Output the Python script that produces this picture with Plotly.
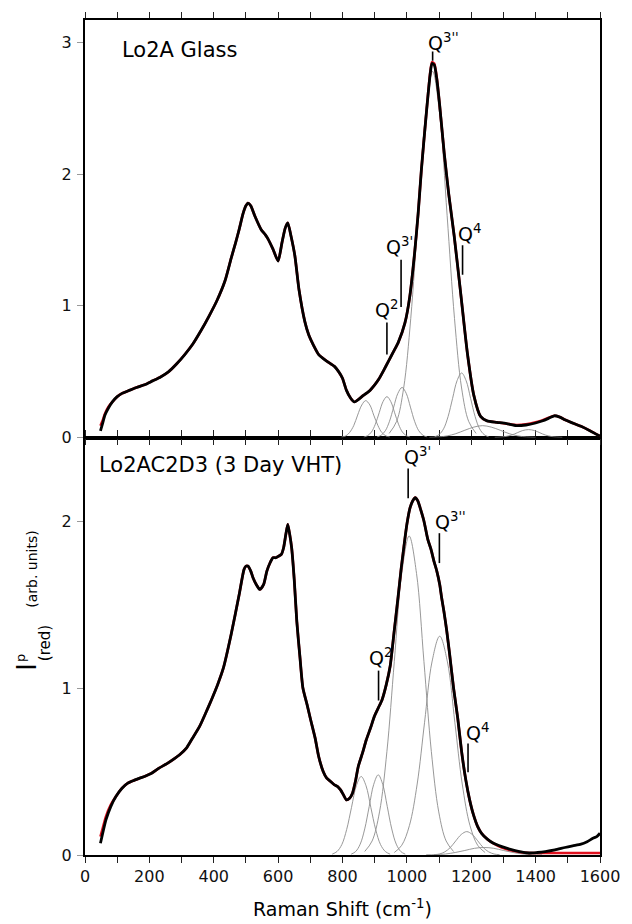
import plotly.graph_objects as go

# ---------------- data: top panel (Lo2A Glass) ----------------
top_x = [48, 55, 62, 72, 85, 100, 115, 135, 160, 185, 210, 235, 260, 285, 310, 335, 360, 385, 410, 435,
         454, 468, 479, 491, 500, 506, 515, 528, 547, 560, 568, 584, 600, 612, 622, 630, 640, 652, 665, 683,
         695, 710, 726, 751, 775, 788, 800, 812, 825, 837, 850, 865, 882, 900, 912, 928, 943, 958, 973, 994,
         1009, 1024, 1035, 1045, 1060, 1072, 1078, 1085, 1093, 1102, 1116, 1130, 1147, 1167, 1188, 1208, 1229, 1249, 1280, 1310,
         1340, 1370, 1400, 1420, 1440, 1458, 1475, 1491, 1510, 1541, 1570, 1600]
top_data = [0.05, 0.11, 0.17, 0.22, 0.27, 0.31, 0.335, 0.355, 0.38, 0.40, 0.43, 0.46, 0.50, 0.56, 0.63, 0.71, 0.81, 0.92, 1.04, 1.19,
            1.36, 1.48, 1.58, 1.70, 1.76, 1.78, 1.76, 1.68, 1.58, 1.54, 1.51, 1.43, 1.34, 1.48, 1.59, 1.63, 1.53, 1.38, 1.12, 0.88,
            0.78, 0.70, 0.63, 0.58, 0.54, 0.50, 0.45, 0.36, 0.30, 0.27, 0.29, 0.32, 0.35, 0.40, 0.44, 0.51, 0.58, 0.65, 0.72, 0.87,
            1.07, 1.40, 1.70, 2.03, 2.45, 2.75, 2.84, 2.83, 2.72, 2.52, 2.16, 1.85, 1.53, 1.10, 0.64, 0.32, 0.16, 0.126, 0.115, 0.105,
            0.09, 0.095, 0.11, 0.125, 0.145, 0.165, 0.155, 0.135, 0.115, 0.085, 0.05, 0.01]
top_fit = [0.09, 0.13, 0.18, 0.23, 0.27, 0.31, 0.335, 0.355, 0.38, 0.40, 0.43, 0.46, 0.50, 0.56, 0.63, 0.71, 0.81, 0.92, 1.04, 1.19,
           1.36, 1.48, 1.58, 1.70, 1.76, 1.78, 1.76, 1.68, 1.58, 1.54, 1.51, 1.43, 1.34, 1.48, 1.59, 1.63, 1.53, 1.38, 1.12, 0.88,
           0.78, 0.70, 0.63, 0.58, 0.54, 0.50, 0.45, 0.36, 0.30, 0.27, 0.29, 0.32, 0.35, 0.40, 0.44, 0.51, 0.58, 0.65, 0.72, 0.87,
           1.07, 1.40, 1.70, 2.03, 2.45, 2.76, 2.85, 2.84, 2.73, 2.52, 2.16, 1.85, 1.53, 1.10, 0.64, 0.32, 0.16, 0.126, 0.115, 0.105,
           0.095, 0.10, 0.115, 0.13, 0.15, 0.165, 0.155, 0.135, 0.115, 0.085, 0.05, 0.01]

# fitted components, top panel
top_c1_x = [797, 810, 822, 835, 847, 860, 872, 885, 897, 910, 922, 935, 947]
top_c1_y = [0.003, 0.012, 0.038, 0.091, 0.170, 0.247, 0.28, 0.247, 0.170, 0.091, 0.038, 0.012, 0.003]
top_c2_x = [866, 878, 890, 902, 914, 926, 938, 950, 962, 974, 986, 998, 1010]
top_c2_y = [0.003, 0.014, 0.042, 0.101, 0.188, 0.273, 0.31, 0.273, 0.188, 0.101, 0.042, 0.014, 0.003]
top_c3_x = [907, 920, 933, 946, 959, 972, 985, 998, 1011, 1024, 1037, 1050, 1063]
top_c3_y = [0.004, 0.017, 0.051, 0.123, 0.231, 0.335, 0.38, 0.335, 0.231, 0.123, 0.051, 0.017, 0.004]
top_c4_x = [945, 968, 990, 1012, 1035, 1058, 1080, 1102, 1125, 1148, 1170, 1192, 1215]
top_c4_y = [0.031, 0.122, 0.376, 0.903, 1.687, 2.452, 2.78, 2.452, 1.687, 0.903, 0.376, 0.122, 0.031]
top_c5_x = [1086, 1100, 1114, 1128, 1142, 1156, 1170, 1184, 1198, 1212, 1226, 1240, 1254]
top_c5_y = [0.005, 0.022, 0.066, 0.159, 0.297, 0.432, 0.49, 0.432, 0.297, 0.159, 0.066, 0.022, 0.005]
top_c6_x = [1070, 1098, 1125, 1152, 1180, 1208, 1235, 1262, 1290, 1318, 1345, 1372, 1400]
top_c6_y = [0.001, 0.004, 0.012, 0.029, 0.055, 0.079, 0.09, 0.079, 0.055, 0.029, 0.012, 0.004, 0.001]
top_c7_x = [1273, 1290, 1308, 1326, 1343, 1360, 1378, 1396, 1413, 1430, 1448, 1466, 1483]
top_c7_y = [0.001, 0.003, 0.008, 0.019, 0.036, 0.053, 0.06, 0.053, 0.036, 0.019, 0.008, 0.003, 0.001]

# ---------------- data: bottom panel (Lo2AC2D3, 3 Day VHT) ----------------
bot_x = [48, 55, 65, 80, 96, 115, 133, 150, 170, 190, 207, 230, 257, 280, 294, 315, 331, 356, 375, 393,
         412, 430, 454, 479, 494, 500, 506, 515, 522, 532, 543, 555, 565, 575, 584, 593, 602, 610, 617, 624,
         630, 636, 642, 650, 658, 668, 677, 690, 701, 715, 726, 740, 751, 763, 775, 785, 794, 803, 812, 822,
         831, 840, 849, 862, 874, 887, 899, 911, 923, 936, 948, 960, 973, 982, 991, 1000, 1010, 1018, 1026, 1034,
         1041, 1053, 1065, 1075, 1084, 1093, 1102, 1108, 1115, 1124, 1133, 1145, 1158, 1170, 1183, 1195, 1207, 1220, 1232, 1250,
         1269, 1295, 1319, 1350, 1380, 1405, 1430, 1460, 1491, 1515, 1541, 1560, 1578, 1590, 1600]
bot_data = [0.07, 0.13, 0.21, 0.29, 0.35, 0.40, 0.43, 0.445, 0.46, 0.475, 0.49, 0.52, 0.55, 0.58, 0.60, 0.64, 0.69, 0.77, 0.85, 0.93,
            1.02, 1.12, 1.32, 1.56, 1.71, 1.73, 1.73, 1.70, 1.66, 1.62, 1.59, 1.62, 1.70, 1.75, 1.78, 1.78, 1.79, 1.80, 1.84, 1.92,
            1.98, 1.92, 1.84, 1.65, 1.40, 1.18, 1.00, 0.90, 0.81, 0.70, 0.59, 0.50, 0.46, 0.44, 0.42, 0.41, 0.39, 0.36, 0.33, 0.34,
            0.37, 0.44, 0.53, 0.61, 0.69, 0.76, 0.83, 0.88, 0.93, 1.02, 1.13, 1.33, 1.55, 1.71, 1.85, 1.98, 2.08, 2.12, 2.14, 2.12,
            2.08, 2.00, 1.89, 1.83, 1.76, 1.70, 1.62, 1.54, 1.46, 1.34, 1.20, 1.00, 0.82, 0.62, 0.45, 0.33, 0.24, 0.17, 0.13, 0.095,
            0.07, 0.05, 0.035, 0.02, 0.012, 0.015, 0.02, 0.03, 0.045, 0.055, 0.065, 0.08, 0.10, 0.11, 0.13]
bot_fit = [0.11, 0.16, 0.23, 0.30, 0.35, 0.40, 0.43, 0.445, 0.46, 0.475, 0.49, 0.52, 0.55, 0.58, 0.60, 0.64, 0.69, 0.77, 0.85, 0.93,
           1.02, 1.12, 1.32, 1.56, 1.71, 1.73, 1.73, 1.70, 1.66, 1.62, 1.59, 1.62, 1.70, 1.75, 1.78, 1.78, 1.79, 1.80, 1.84, 1.92,
           1.98, 1.92, 1.84, 1.65, 1.40, 1.18, 1.00, 0.90, 0.81, 0.70, 0.59, 0.50, 0.46, 0.44, 0.42, 0.41, 0.39, 0.36, 0.33, 0.34,
           0.37, 0.44, 0.53, 0.61, 0.69, 0.76, 0.83, 0.88, 0.93, 1.02, 1.13, 1.33, 1.55, 1.71, 1.85, 1.98, 2.08, 2.12, 2.14, 2.12,
           2.08, 2.00, 1.89, 1.83, 1.76, 1.70, 1.62, 1.54, 1.46, 1.34, 1.20, 1.00, 0.82, 0.62, 0.45, 0.33, 0.24, 0.17, 0.13, 0.095,
           0.07, 0.045, 0.03, 0.018, 0.012, 0.012, 0.012, 0.012, 0.012, 0.012, 0.012, 0.012, 0.012, 0.012, 0.012]

# fitted components, bottom panel
bot_c1_x = [768, 783, 798, 813, 828, 843, 858, 873, 888, 903, 918, 933, 948]
bot_c1_y = [0.005, 0.021, 0.063, 0.153, 0.285, 0.415, 0.47, 0.415, 0.285, 0.153, 0.063, 0.021, 0.005]
bot_c2_x = [827, 841, 855, 869, 883, 897, 911, 925, 939, 953, 967, 981, 995]
bot_c2_y = [0.005, 0.021, 0.065, 0.156, 0.291, 0.423, 0.48, 0.423, 0.291, 0.156, 0.065, 0.021, 0.005]
bot_c3_x = [869, 892, 915, 938, 961, 984, 1007, 1030, 1053, 1076, 1099, 1122, 1145]
bot_c3_y = [0.021, 0.084, 0.258, 0.620, 1.159, 1.686, 1.91, 1.686, 1.159, 0.620, 0.258, 0.084, 0.021]
bot_c4_x = [961, 984, 1008, 1032, 1055, 1078, 1102, 1126, 1149, 1172, 1196, 1220, 1243]
bot_c4_y = [0.015, 0.058, 0.177, 0.425, 0.795, 1.156, 1.31, 1.156, 0.795, 0.425, 0.177, 0.058, 0.015]
bot_c5_x = [1084, 1101, 1118, 1135, 1152, 1169, 1186, 1203, 1220, 1237, 1254, 1271, 1288]
bot_c5_y = [0.002, 0.006, 0.019, 0.045, 0.085, 0.123, 0.14, 0.123, 0.085, 0.045, 0.019, 0.006, 0.002]
bot_c6_x = [1060, 1090, 1120, 1150, 1180, 1210, 1240, 1270, 1300, 1330, 1360, 1390, 1420]
bot_c6_y = [0.001, 0.002, 0.006, 0.015, 0.027, 0.04, 0.045, 0.04, 0.027, 0.015, 0.006, 0.002, 0.001]

# peak labels: (text, label x, label y, tick x, tick y0, tick y1)
top_labels = ["Q<sup>3''</sup>", "Q<sup>3'</sup>", "Q<sup>2</sup>", "Q<sup>4</sup>"]
top_label_x = [1058, 930, 896, 1153]
top_label_y = [2.895, 1.345, 0.87, 1.45]
top_tick_x = [1080, 982, 938, 1173]
top_tick_y0 = [2.86, 0.99, 0.63, 1.236]
top_tick_y1 = [2.93, 1.35, 0.873, 1.46]

bot_labels = ["Q<sup>3'</sup>", "Q<sup>3''</sup>", "Q<sup>2</sup>", "Q<sup>4</sup>"]
bot_label_x = [985, 1080, 875, 1178]
bot_label_y = [2.306, 1.918, 1.101, 0.653]
bot_tick_x = [1004, 1101, 912, 1190]
bot_tick_y0 = [2.136, 1.748, 0.925, 0.495]
bot_tick_y1 = [2.315, 1.927, 1.104, 0.668]

x_major_step = 200
x_minor_step = 100
top_y_ticks = [0, 1, 2, 3]
bot_y_ticks = [0, 1, 2]

FONT = "DejaVu Sans"
GRAY = "#8c8c8c"
RED = "#e0101e"

fig = go.Figure()

def comp(xs, ys, xa, ya):
    fig.add_trace(go.Scatter(x=xs, y=ys, mode="lines", xaxis=xa, yaxis=ya,
                             line=dict(color=GRAY, width=0.9, shape="spline", smoothing=1.0),
                             hoverinfo="skip"))

for cx, cy in [(top_c1_x, top_c1_y), (top_c2_x, top_c2_y), (top_c3_x, top_c3_y), (top_c4_x, top_c4_y),
               (top_c5_x, top_c5_y), (top_c6_x, top_c6_y), (top_c7_x, top_c7_y)]:
    comp(cx, cy, "x2", "y2")
for cx, cy in [(bot_c1_x, bot_c1_y), (bot_c2_x, bot_c2_y), (bot_c3_x, bot_c3_y), (bot_c4_x, bot_c4_y),
               (bot_c5_x, bot_c5_y), (bot_c6_x, bot_c6_y)]:
    comp(cx, cy, "x", "y")

# fit (red) beneath data (black)
fig.add_trace(go.Scatter(x=top_x, y=top_fit, mode="lines", xaxis="x2", yaxis="y2",
                         line=dict(color=RED, width=2.6, shape="spline", smoothing=0.6)))
fig.add_trace(go.Scatter(x=top_x, y=top_data, mode="lines", xaxis="x2", yaxis="y2",
                         line=dict(color="black", width=2.8, shape="spline", smoothing=0.6)))
fig.add_trace(go.Scatter(x=bot_x, y=bot_fit, mode="lines", xaxis="x", yaxis="y",
                         line=dict(color=RED, width=2.6, shape="spline", smoothing=0.6)))
fig.add_trace(go.Scatter(x=bot_x, y=bot_data, mode="lines", xaxis="x", yaxis="y",
                         line=dict(color="black", width=2.8, shape="spline", smoothing=0.6)))

annotations = []
shapes = []
for t, lx, ly, tx, t0, t1 in zip(top_labels, top_label_x, top_label_y, top_tick_x, top_tick_y0, top_tick_y1):
    annotations.append(dict(text=t, x=lx, y=ly, xref="x2", yref="y2", xanchor="left", yanchor="bottom",
                            showarrow=False, font=dict(family=FONT, size=19, color="black")))
    shapes.append(dict(type="line", xref="x2", yref="y2", x0=tx, x1=tx, y0=t0, y1=t1,
                       line=dict(color="black", width=1.6)))
for t, lx, ly, tx, t0, t1 in zip(bot_labels, bot_label_x, bot_label_y, bot_tick_x, bot_tick_y0, bot_tick_y1):
    annotations.append(dict(text=t, x=lx, y=ly, xref="x", yref="y", xanchor="left", yanchor="bottom",
                            showarrow=False, font=dict(family=FONT, size=19, color="black")))
    shapes.append(dict(type="line", xref="x", yref="y", x0=tx, x1=tx, y0=t0, y1=t1,
                       line=dict(color="black", width=1.6)))

# panel titles
annotations.append(dict(text="Lo2A Glass", x=0.068, y=0.9643, xref="paper", yref="paper",
                        xanchor="left", yanchor="middle", showarrow=False,
                        font=dict(family=FONT, size=21, color="black")))
annotations.append(dict(text="Lo2AC2D3 (3 Day VHT)", x=0.024, y=0.467, xref="paper", yref="paper",
                        xanchor="left", yanchor="middle", showarrow=False,
                        font=dict(family=FONT, size=21, color="black")))

# y-axis title pieces (rotated)
annotations.append(dict(text="I", x=-0.1128, y=0.2253, xref="paper", yref="paper", textangle=-90,
                        xanchor="center", yanchor="middle", showarrow=False,
                        font=dict(family=FONT, size=26, color="black")))
annotations.append(dict(text="p", x=-0.124, y=0.236, xref="paper", yref="paper", textangle=-90,
                        xanchor="center", yanchor="middle", showarrow=False,
                        font=dict(family=FONT, size=13, color="black")))
annotations.append(dict(text="(red)", x=-0.0774, y=0.2539, xref="paper", yref="paper", textangle=-90,
                        xanchor="center", yanchor="middle", showarrow=False,
                        font=dict(family=FONT, size=15, color="black")))
annotations.append(dict(text="(arb. units)", x=-0.1023, y=0.342, xref="paper", yref="paper", textangle=-90,
                        xanchor="center", yanchor="middle", showarrow=False,
                        font=dict(family=FONT, size=14, color="black")))

# x-axis title
annotations.append(dict(text="Raman Shift (cm<sup>-1</sup>)", x=0.5, y=-0.0805, xref="paper", yref="paper",
                        xanchor="center", yanchor="bottom", showarrow=False,
                        font=dict(family=FONT, size=19, color="black")))

xcommon = dict(range=[0, 1600], tickmode="linear", tick0=0, dtick=x_major_step,
               ticks="outside", ticklen=6, tickwidth=1.2, tickcolor="#222", showline=True, linecolor="black",
               linewidth=1.8, mirror="ticks", showgrid=False, zeroline=False,
               minor=dict(tick0=0, dtick=x_minor_step, ticks="outside", ticklen=6, tickwidth=1.2,
                          tickcolor="#222", showgrid=False),
               tickfont=dict(family=FONT, size=16, color="#111"))
ycommon = dict(tickmode="array", ticks="outside", ticklen=6, tickwidth=1, tickcolor="#999",
               showline=True, linecolor="black", linewidth=2, mirror=True, showgrid=False, zeroline=False,
               tickfont=dict(family=FONT, size=16, color="#111"), ticklabelstandoff=2)

fig.update_layout(
    width=632, height=924,
    margin=dict(l=85, r=24, t=16, b=69),
    paper_bgcolor="white", plot_bgcolor="white", showlegend=False,
    font=dict(family=FONT, size=16, color="#111"),
    xaxis=dict(domain=[0, 1], anchor="y", **xcommon),
    xaxis2=dict(domain=[0, 1], anchor="y2", showticklabels=False, **xcommon),
    yaxis=dict(domain=[0, 0.5], anchor="x", range=[0, 2.5], tickvals=bot_y_ticks, **ycommon),
    yaxis2=dict(domain=[0.5, 1], anchor="x2", range=[0, 3.17], tickvals=top_y_ticks, **ycommon),
    annotations=annotations,
    shapes=shapes,
)

fig.write_html("out.html")
